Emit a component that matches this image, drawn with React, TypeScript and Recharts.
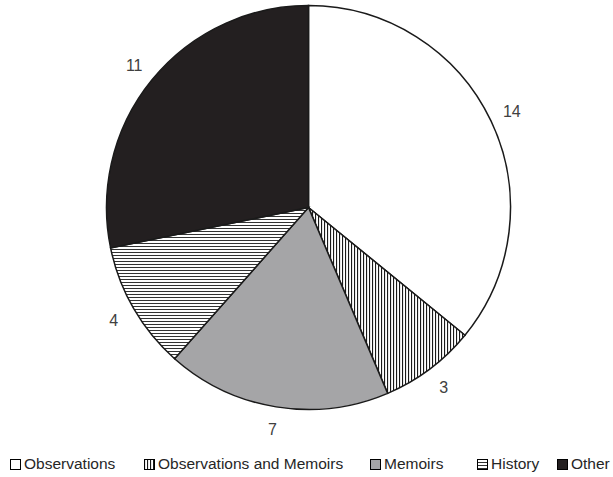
import React from "react";
import { PieChart, Pie, Cell, Legend } from "recharts";

// Publication categories and counts
const categories = ["Observations", "Observations and Memoirs", "Memoirs", "History", "Other"];
const counts = [14, 3, 7, 4, 11];
const fills = ["#ffffff", "url(#vStripes)", "#a5a5a7", "url(#hStripes)", "#231f20"];

const data = categories.map((name, i) => ({ name, value: counts[i] }));

// Left edge of each legend entry
const legendX = [10, 144, 370, 477, 557];

const RAD = Math.PI / 180;
const FONT = "'Liberation Sans', Arial, sans-serif";

const renderLabel = (props: any) => {
  const { cx, cy, midAngle, outerRadius, value } = props;
  const r = outerRadius + 23;
  const x = cx + r * Math.cos(-midAngle * RAD);
  const y = cy + r * Math.sin(-midAngle * RAD);
  return (
    <text
      x={x}
      y={y}
      textAnchor="middle"
      dominantBaseline="central"
      fill="#404040"
      fontSize={16}
      fontFamily={FONT}
    >
      {value}
    </text>
  );
};

const LegendContent = () => (
  <div
    style={{
      position: "relative",
      height: 20,
      fontFamily: FONT,
      fontSize: 15.5,
      color: "#262626",
      whiteSpace: "nowrap",
    }}
  >
    {categories.map((name, i) => (
      <div
        key={name}
        style={{ position: "absolute", left: legendX[i], top: 0, display: "flex", alignItems: "center", height: 20 }}
      >
        <svg width={11} height={11} style={{ marginRight: 3 }}>
          <rect x={0.5} y={0.5} width={10} height={10} fill={fills[i]} stroke="#000" strokeWidth={1} />
        </svg>
        <span>{name}</span>
      </div>
    ))}
  </div>
);

export default function App() {
  return (
    <div style={{ position: "absolute", left: 0, top: 0, width: 613, height: 477, background: "#fff" }}>
      <PieChart width={613} height={477} margin={{ top: 0, right: 0, bottom: 0, left: 0 }}>
        <defs>
          <pattern id="vStripes" width={3} height={3} patternUnits="userSpaceOnUse">
            <rect width={3} height={3} fill="#ffffff" />
            <rect x={0} y={0} width={1.1} height={3} fill="#1a1a1a" />
          </pattern>
          <pattern id="hStripes" width={3} height={3} patternUnits="userSpaceOnUse">
            <rect width={3} height={3} fill="#ffffff" />
            <rect x={0} y={0} width={3} height={1} fill="#333333" />
          </pattern>
        </defs>
        <Pie
          data={data}
          dataKey="value"
          nameKey="name"
          cx={308.5}
          cy={207.5}
          outerRadius={202}
          startAngle={90}
          endAngle={-270}
          stroke="#1a1a1a"
          strokeWidth={1.5}
          label={renderLabel}
          labelLine={false}
          isAnimationActive={false}
        >
          {data.map((d, i) => (
            <Cell key={d.name} fill={fills[i]} />
          ))}
        </Pie>
        <Legend
          content={LegendContent}
          wrapperStyle={{ position: "absolute", left: 0, top: 454, width: 613, height: 20 }}
        />
      </PieChart>
    </div>
  );
}
